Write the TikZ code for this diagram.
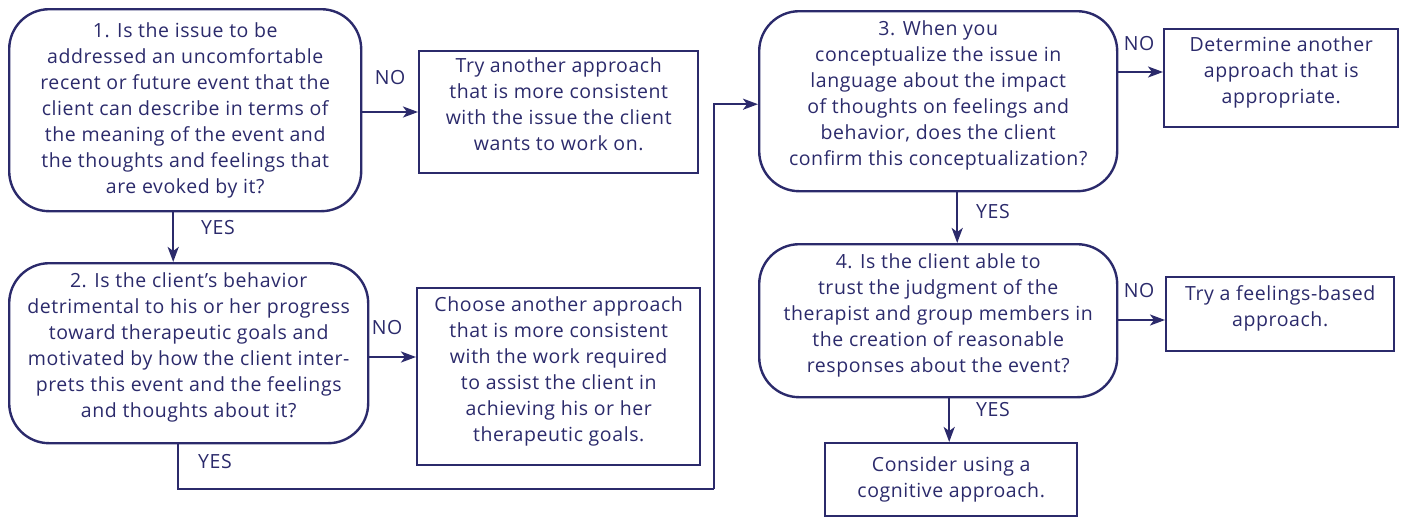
\documentclass[tikz,border=0pt]{standalone}
\usepackage{fontspec}
\setmainfont[LetterSpace=3]{Open Sans}
\usetikzlibrary{arrows.meta,positioning}
\definecolor{navy}{HTML}{2B2A6B}
\tikzset{
  >={Stealth[length=15pt,width=11pt,inset=4pt]}
}

\begin{document}
\begin{tikzpicture}[x=1pt,y=-1pt,
    every node/.style={text=navy,font=\fontsize{19.5}{26}\selectfont},
    question/.style={rectangle,draw=navy,line width=2.4pt,rounded corners=40pt,anchor=north west,align=center,inner sep=0pt},
    answer/.style={rectangle,draw=navy,line width=2.4pt,anchor=north west,align=center,inner sep=0pt},
    raised/.style={text depth=16pt},
    lbl/.style={inner sep=0pt},
    link/.style={draw=navy,line width=2.4pt,->}
  ]
    \useasboundingbox (0,0) rectangle (1403,517);
    \node (Q1) at (8,8) [question,minimum width=352pt,minimum height=202pt] {1. Is the issue to be\\addressed an uncomfortable\\recent or future event that the\\client can describe in terms of\\the meaning of the event and\\the thoughts and feelings that\\are evoked by it?};
    \node (A1) at (418,50) [answer,raised,minimum width=279pt,minimum height=122pt] {Try another approach\\that is more consistent\\with the issue the client\\wants to work on.};
    \node (Q2) at (8,262) [question,raised,minimum width=359pt,minimum height=180pt] {2. Is the client's behavior\\detrimental to his or her progress\\toward therapeutic goals and\\motivated by how the client inter-\\prets this event and the feelings\\and thoughts about it?};
    \node (A2) at (416,287) [answer,raised,minimum width=283pt,minimum height=177pt] {Choose another approach\\that is more consistent\\with the work required\\to assist the client in\\achieving his or her\\therapeutic goals.};
    \node (Q3) at (758,10) [question,raised,minimum width=358pt,minimum height=180pt] {3. When you\\conceptualize the issue in\\language about the impact\\of thoughts on feelings and\\behavior, does the client\\confirm this conceptualization?};
    \node (A3) at (1163,28) [answer,raised,minimum width=234pt,minimum height=98pt] {Determine another\\approach that is\\appropriate.};
    \node (Q4) at (758,243) [question,raised,minimum width=358pt,minimum height=153pt] {4. Is the client able to\\trust the judgment of the\\therapist and group members in\\the creation of reasonable\\responses about the event?};
    \node (A4) at (1165,276) [answer,raised,minimum width=228pt,minimum height=74pt] {Try a feelings-based\\approach.};
    \node (A5) at (824,442) [answer,minimum width=252pt,minimum height=73pt] {Consider using a\\cognitive approach.};
    \coordinate (turn) at (714,489);

    % labels
    \node[lbl] at (390,78) {NO};
    \node[lbl] at (218,228) {YES};
    \node[lbl] at (387,328) {NO};
    \node[lbl] at (215,462) {YES};
    \node[lbl] at (1139,44) {NO};
    \node[lbl] at (993,212) {YES};
    \node[lbl] at (1139,291) {NO};
    \node[lbl] at (993,410) {YES};

    \draw[link] (Q1.east |- 0,112) -- (A1.west |- 0,112);
    \draw[link] ([xshift=-12pt]Q1.south) -- ([xshift=-12pt]Q1.south |- Q2.north);
    \draw[link] (Q2.east |- 0,357) -- (A2.west |- 0,357);
    \draw[link,-] ([xshift=-11pt]Q2.south) |- (turn);
    \draw[link] (turn) |- ([yshift=-3pt]Q3.west);
    \draw[link] (Q3.east |- 0,72) -- (A3.west |- 0,72);
    \draw[link] ([xshift=19pt]Q3.south) -- ([xshift=19pt]Q3.south |- Q4.north);
    \draw[link] (Q4.east |- 0,320) -- (A4.west |- 0,320);
    \draw[link] ([xshift=11pt]Q4.south) -- ([xshift=11pt]Q4.south |- A5.north);

  \end{tikzpicture}
\end{document}
